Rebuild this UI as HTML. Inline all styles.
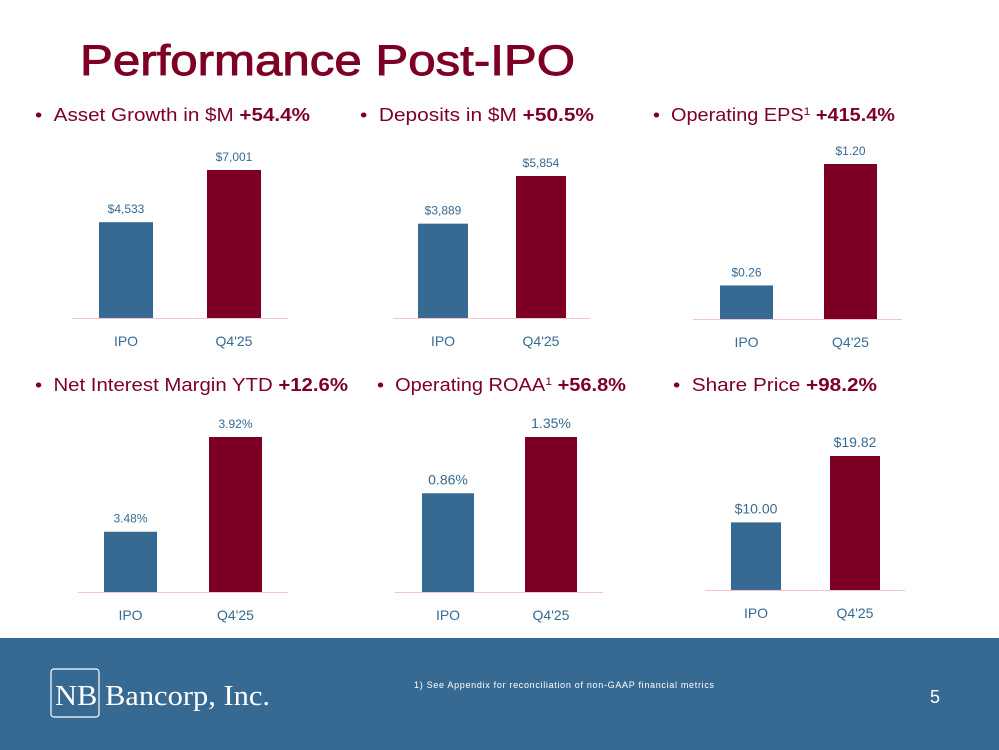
<!DOCTYPE html>
<html><head><meta charset="utf-8"><style>
body{margin:0;width:999px;height:750px;overflow:hidden;background:#fff;font-family:"Liberation Sans",sans-serif}
svg{display:block}
</style></head><body>
<svg id="s" width="999" height="750">
<text x="80" y="75" font-size="43" fill="#7d0024" stroke="#7d0024" stroke-width="0.9" textLength="495" lengthAdjust="spacingAndGlyphs">Performance Post-IPO</text>
<rect x="0" y="638" width="999" height="112" fill="#376a93"/>
<rect x="51" y="669" width="48" height="48" rx="3" fill="none" stroke="#fff" stroke-width="1.2"/>
<text x="55" y="705" font-family="Liberation Serif,serif" font-size="29" fill="#fff" textLength="215" lengthAdjust="spacingAndGlyphs">NB Bancorp, Inc.</text>
<text x="414" y="688" font-size="9" fill="#fff" textLength="300">1)    See Appendix for reconciliation of non-GAAP financial metrics</text>
<text x="930" y="703" font-size="18" fill="#fff">5</text>
<g id="charts"></g>
</svg>
<script>
const categories=["IPO","Q4'25"];
const titles=["Asset Growth in $M","Deposits in $M","Operating EPS","Net Interest Margin YTD","Operating ROAA","Share Price "];
const supers=["","","1","","1",""];
const changes=["+54.4%","+50.5%","+415.4%","+12.6%","+56.8%","+98.2%"];
const seriesValues=[[4533,7001],[3889,5854],[0.26,1.20],[3.48,3.92],[0.86,1.35],[10.00,19.82]];
const valueLabels=[["$4,533","$7,001"],["$3,889","$5,854"],["$0.26","$1.20"],["3.48%","3.92%"],["0.86%","1.35%"],["$10.00","$19.82"]];
const axisMins=[0,0,0,3.2,0,0];
// layout (not data)
const L=[
 {tx:35,ty:121,tw:275,base:318,top:170,x0:72,x1:288,bx:[99,207],bw:54,lf:12},
 {tx:360,ty:121,tw:234,base:318,top:176,x0:393,x1:590,bx:[418,516],bw:50,lf:12},
 {tx:653,ty:121,tw:242,base:319,top:164,x0:693,x1:902,bx:[720,824],bw:53,lf:12},
 {tx:35,ty:391,tw:313,base:592,top:437,x0:78,x1:288,bx:[104,209],bw:53,lf:12},
 {tx:377,ty:391,tw:249,base:592,top:437,x0:395,x1:603,bx:[422,525],bw:52,lf:14},
 {tx:673,ty:391,tw:204,base:590,top:456,x0:705,x1:905,bx:[731,830],bw:50,lf:14}];
const NS="http://www.w3.org/2000/svg",g=document.getElementById('charts');
function mk(t,a,txt){const e=document.createElementNS(NS,t);for(const k in a)e.setAttribute(k,a[k]);if(txt!==undefined)e.textContent=txt;g.appendChild(e);return e;}
seriesValues.forEach((vals,i)=>{
 const l=L[i],mx=Math.max(...vals),mn=axisMins[i];
 const y=v=>l.base-(v-mn)/(mx-mn)*(l.base-l.top);
 const t=mk('text',{x:l.tx,y:l.ty,'font-size':18,fill:'#7d0024',textLength:l.tw,lengthAdjust:'spacingAndGlyphs'});
 
 
 t.innerHTML='• &#160;'+titles[i]+(supers[i]?'<tspan font-size="11" dy="-6">'+supers[i]+'</tspan><tspan dy="6"> </tspan>':' ')+'<tspan font-weight="bold">'+changes[i]+'</tspan>';
 vals.forEach((v,j)=>{
  const yy=y(v);
  const r=mk('rect',{x:l.bx[j],y:yy,width:l.bw,height:l.base-yy,fill:j?'#7d0024':'#376a93'});
  
  
  const lb=mk('text',{x:l.bx[j]+l.bw/2,y:yy-9,'font-size':l.lf,fill:'#376a93','text-anchor':'middle'},valueLabels[i][j]);
  
  
  const c=mk('text',{x:l.bx[j]+l.bw/2,y:l.base+28,'font-size':14,fill:'#376a93','text-anchor':'middle'},categories[j]);
  
  
 });
 const ax=mk('line',{x1:l.x0,x2:l.x1,y1:l.base+0.5,y2:l.base+0.5,stroke:'#f2c4cf','stroke-width':1});
 
 
});
</script>
</body></html>
